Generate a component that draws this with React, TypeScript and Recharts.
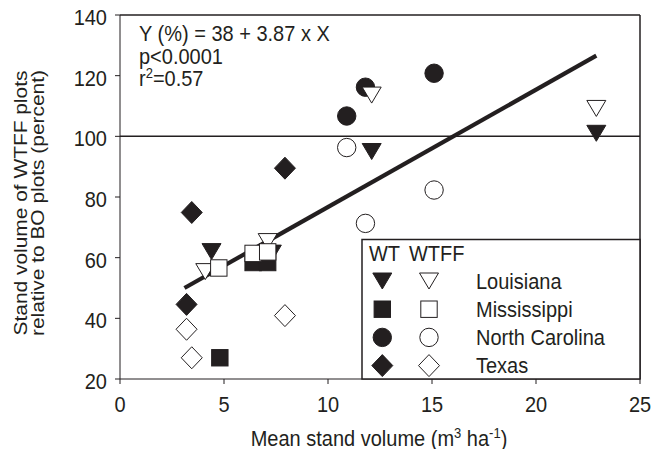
import React from 'react';
import { ScatterChart, Scatter, XAxis, YAxis, ReferenceLine } from 'recharts';

// ---- data ----
const xTicks = [0, 5, 10, 15, 20, 25];
const yTicks = [20, 40, 60, 80, 100, 120, 140];

const louisianaWT = [
  { x: 4.4, y: 62 },
  { x: 7.3, y: 61.5 },
  { x: 12.1, y: 95 },
  { x: 22.9, y: 101 },
];
const louisianaWTFF = [
  { x: 4.1, y: 55.4 },
  { x: 7.1, y: 65.3 },
  { x: 12.1, y: 113.6 },
  { x: 22.9, y: 109.2 },
];
const mississippiWT = [
  { x: 4.8, y: 27 },
  { x: 6.4, y: 58.4 },
  { x: 7.1, y: 58.4 },
];
const mississippiWTFF = [
  { x: 4.75, y: 56.6 },
  { x: 6.4, y: 61.4 },
  { x: 7.1, y: 61.9 },
];
const northCarolinaWT = [
  { x: 10.9, y: 106.7 },
  { x: 11.8, y: 116.2 },
  { x: 15.1, y: 120.8 },
];
const northCarolinaWTFF = [
  { x: 10.9, y: 96.3 },
  { x: 11.8, y: 71.3 },
  { x: 15.1, y: 82.3 },
];
const texasWT = [
  { x: 3.2, y: 44.6 },
  { x: 3.45, y: 74.9 },
  { x: 7.93, y: 89.5 },
];
const texasWTFF = [
  { x: 3.2, y: 36.4 },
  { x: 3.45, y: 27 },
  { x: 7.93, y: 40.9 },
];
const regressionLine = [
  { x: 3.1, y: 50 },
  { x: 22.9, y: 126.6 },
];
const referenceY = 100;

const legendStates = ['Louisiana', 'Mississippi', 'North Carolina', 'Texas'];

// ---- styling ----
const INK = '#231f20';
const FONT = '"Liberation Sans", Arial, Helvetica, sans-serif';
const SY = 1.1; // vertical stretch of the reference typography

type ShapeFn = (filled: boolean) => (p: any) => React.ReactElement;

const triDown: ShapeFn = (filled) => (p) => {
  const { cx, cy } = p;
  const w = 9.5, h = 8;
  return (
    <path
      d={`M${cx - w},${cy - h}L${cx + w},${cy - h}L${cx},${cy + h}Z`}
      fill={filled ? INK : '#fff'}
      stroke={INK}
      strokeWidth={1}
    />
  );
};
const square: ShapeFn = (filled) => (p) => {
  const { cx, cy } = p;
  const s = 8.2;
  return (
    <rect x={cx - s} y={cy - s} width={2 * s} height={2 * s} fill={filled ? INK : '#fff'} stroke={INK} strokeWidth={1} />
  );
};
const circle: ShapeFn = (filled) => (p) => {
  const { cx, cy } = p;
  return <circle cx={cx} cy={cy} r={9.2} fill={filled ? INK : '#fff'} stroke={INK} strokeWidth={1} />;
};
const diamond: ShapeFn = (filled) => (p) => {
  const { cx, cy } = p;
  const w = 10.5, h = 11;
  return (
    <path
      d={`M${cx},${cy - h}L${cx + w},${cy}L${cx},${cy + h}L${cx - w},${cy}Z`}
      fill={filled ? INK : '#fff'}
      stroke={INK}
      strokeWidth={1}
    />
  );
};

const legendShapes = [triDown, square, circle, diamond];

// text with the reference's slight vertical stretch; (x, y) is the baseline start
const T = ({ x, y, children, anchor = 'start', size = 20, rotate = false }: any) => (
  <g transform={`translate(${x},${y}) scale(1,${SY})${rotate ? ' rotate(-90)' : ''}`}>
    <text x={0} y={0} fontSize={size} textAnchor={anchor} fill={INK} fontFamily={FONT}>
      {children}
    </text>
  </g>
);

const XTick = (props: any) => {
  const { x, y, payload } = props;
  // y is axis + tickSize + tickMargin
  return <T x={x} y={y + 14} anchor="middle">{payload.value}</T>;
};
const YTick = (props: any) => {
  const { x, y, payload } = props;
  return <T x={x} y={y + 10} anchor="end">{payload.value}</T>;
};

export default function App() {
  return (
    <div style={{ position: 'absolute', left: 0, top: 0, width: 652, height: 449, background: '#fff', fontFamily: FONT }}>
      <ScatterChart width={652} height={449} margin={{ top: 15, right: 12, bottom: 0, left: 0 }}>
        <XAxis
          type="number"
          dataKey="x"
          domain={[0, 25]}
          ticks={xTicks}
          height={70}
          tickSize={5}
          tickMargin={14}
          stroke={INK}
          tick={<XTick />}
          allowDataOverflow
        />
        <YAxis
          type="number"
          dataKey="y"
          domain={[20, 140]}
          ticks={yTicks}
          width={120}
          tickSize={5}
          tickMargin={8}
          stroke={INK}
          tick={<YTick />}
          allowDataOverflow
        />
        <ReferenceLine y={140} stroke={INK} strokeWidth={1.5} ifOverflow="visible" />
        <ReferenceLine x={25} stroke={INK} strokeWidth={1.5} ifOverflow="visible" />
        <ReferenceLine y={referenceY} stroke={INK} strokeWidth={1.5} />
        <Scatter
          data={regressionLine}
          line={{ stroke: INK, strokeWidth: 4.2 }}
          lineType="joint"
          shape={() => <g />}
          isAnimationActive={false}
        />
        <Scatter data={louisianaWT} shape={triDown(true)} isAnimationActive={false} />
        <Scatter data={mississippiWT} shape={square(true)} isAnimationActive={false} />
        <Scatter data={northCarolinaWT} shape={circle(true)} isAnimationActive={false} />
        <Scatter data={texasWT} shape={diamond(true)} isAnimationActive={false} />
        <Scatter data={louisianaWTFF} shape={triDown(false)} isAnimationActive={false} />
        <Scatter data={mississippiWTFF} shape={square(false)} isAnimationActive={false} />
        <Scatter data={northCarolinaWTFF} shape={circle(false)} isAnimationActive={false} />
        <Scatter data={texasWTFF} shape={diamond(false)} isAnimationActive={false} />
      </ScatterChart>
      <svg
        width={652}
        height={449}
        style={{ position: 'absolute', left: 0, top: 0, pointerEvents: 'none' }}
        fontFamily={FONT}
        fill={INK}
      >
        {/* regression annotation */}
        <T x={139} y={40.5}>Y (%) = 38 + 3.87 x X</T>
        <T x={139} y={64}>p&lt;0.0001</T>
        <T x={139} y={86}>
          r<tspan fontSize={13} dy={-7}>2</tspan>
          <tspan dy={7}>=0.57</tspan>
        </T>

        {/* legend */}
        <rect x={362} y={239.5} width={278} height={139.5} fill="#fff" stroke={INK} strokeWidth={1.5} />
        <T x={369} y={260.7}>WT</T>
        <T x={409} y={260.7}>WTFF</T>
        {legendStates.map((name, i) => {
          const cy = 281 + i * 28.2;
          const Shape = legendShapes[i];
          return (
            <g key={name}>
              {Shape(true)({ cx: 382.3, cy })}
              {Shape(false)({ cx: 429, cy })}
              <T x={476} y={cy + 7.5}>{name}</T>
            </g>
          );
        })}

        {/* axis titles */}
        <T x={379} y={446} anchor="middle">
          Mean stand volume (m<tspan fontSize={13} dy={-7}>3</tspan>
          <tspan dy={7}> ha</tspan>
          <tspan fontSize={13} dy={-7}>-1</tspan>
          <tspan dy={7}>)</tspan>
        </T>
        <T x={27} y={203} anchor="middle" size={19} rotate>Stand volume of WTFF plots</T>
        <T x={43.5} y={203} anchor="middle" size={19} rotate>relative to  BO plots (percent)</T>
      </svg>
    </div>
  );
}
